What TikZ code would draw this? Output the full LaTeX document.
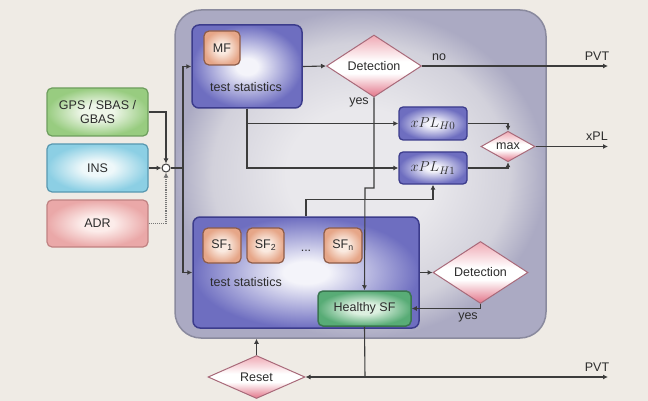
\documentclass[tikz,border=0pt]{standalone}
\usepackage{fontspec}
\setmainfont{Liberation Sans}
\usetikzlibrary{shapes.geometric,arrows.meta}

\definecolor{bg}{HTML}{EFEBE5}
\definecolor{txt}{HTML}{2C2C2C}
\definecolor{lineC}{HTML}{3C3C3C}
\definecolor{bigC}{HTML}{E9E8EC}
\definecolor{bigM}{HTML}{D2D1DB}
\definecolor{bigE}{HTML}{ABAAC3}
\definecolor{bigB}{HTML}{8A8A9E}
\definecolor{pC}{HTML}{F4F4FA}
\definecolor{pM}{HTML}{A4A4D8}
\definecolor{pE}{HTML}{6E6EC0}
\definecolor{pB}{HTML}{3C3C8C}
\definecolor{oC}{HTML}{FAEAE0}
\definecolor{oE}{HTML}{E6A688}
\definecolor{oB}{HTML}{8E5C48}
\definecolor{gC}{HTML}{EEF6E8}
\definecolor{gE}{HTML}{98CC80}
\definecolor{gB}{HTML}{6E9E5E}
\definecolor{bC}{HTML}{EEF8FA}
\definecolor{bE}{HTML}{8CCFE4}
\definecolor{bB}{HTML}{5898B0}
\definecolor{rC}{HTML}{FCECEA}
\definecolor{rE}{HTML}{EAA8A8}
\definecolor{rB}{HTML}{C08282}
\definecolor{hC}{HTML}{DCF0E0}
\definecolor{hE}{HTML}{58AC76}
\definecolor{hB}{HTML}{3A7650}
\definecolor{dTop}{HTML}{EFA9B4}
\definecolor{dBot}{HTML}{E27488}
\definecolor{dB}{HTML}{A86A7A}

\pgfdeclareradialshading{bigsh}{\pgfpoint{0bp}{0bp}}{color(0bp)=(bigC); color(10bp)=(bigC); color(20bp)=(bigM); color(25bp)=(bigE); color(50bp)=(bigE)}
\pgfdeclareradialshading{purpsh}{\pgfpoint{0bp}{0bp}}{color(0bp)=(pC); color(5bp)=(pC); color(17bp)=(pM); color(25bp)=(pE); color(50bp)=(pE)}
\pgfdeclareradialshading{orsh}{\pgfpoint{0bp}{0bp}}{color(0bp)=(oC); color(8bp)=(oC); color(25bp)=(oE); color(50bp)=(oE)}
\pgfdeclareradialshading{grsh}{\pgfpoint{0bp}{0bp}}{color(0bp)=(gC); color(8bp)=(gC); color(25bp)=(gE); color(50bp)=(gE)}
\pgfdeclareradialshading{blsh}{\pgfpoint{0bp}{0bp}}{color(0bp)=(bC); color(8bp)=(bC); color(25bp)=(bE); color(50bp)=(bE)}
\pgfdeclareradialshading{rdsh}{\pgfpoint{0bp}{0bp}}{color(0bp)=(rC); color(8bp)=(rC); color(25bp)=(rE); color(50bp)=(rE)}
\pgfdeclareradialshading{hlsh}{\pgfpoint{0bp}{0bp}}{color(0bp)=(hC); color(8bp)=(hC); color(25bp)=(hE); color(50bp)=(hE)}
\pgfdeclareverticalshading{diash}{100bp}{color(0bp)=(dBot); color(25bp)=(dBot); color(44bp)=(white); color(54bp)=(white); color(75bp)=(dTop); color(100bp)=(dTop)}

\newcommand{\diagfont}{\fontsize{12.5}{14.5}\selectfont}
\newcommand{\xplfont}{\fontsize{15}{17}\selectfont}

\tikzset{
  box/.style={draw, rounded corners=5pt, line width=1.2pt, inner sep=0pt, shade},
  purpbox/.style={box, shading=purpsh, draw=pB, line width=1.5pt, rounded corners=7pt},
  orbox/.style={box, shading=orsh, draw=oB, minimum height=35pt},
  grbox/.style={box, shading=grsh, draw=gB},
  blbox/.style={box, shading=blsh, draw=bB},
  rdbox/.style={box, shading=rdsh, draw=rB},
  hlbox/.style={box, shading=hlsh, draw=hB, line width=1.5pt},
  diabox/.style={diamond, draw=dB, line width=1pt, shade, shading=diash, inner sep=0pt},
  conn/.style={draw=lineC, line width=1.1pt},
  arr/.style={conn, -{Latex[length=5pt,width=5pt]}},
  lbl/.style={inner sep=0pt}
}

\begin{document}
\begin{tikzpicture}[x=1pt,y=-1pt, every node/.style={font=\diagfont, text=txt}]
\useasboundingbox (0,0) rectangle (648,401);
\fill[bg] (0,0) rectangle (648,401);

% main frame
\node[box, shading=bigsh, draw=bigB, line width=1.5pt, rounded corners=26pt,
      minimum width=371pt, minimum height=328pt] (mainbox) at (360.5,174) {};

% top test statistics block
\node[purpbox, minimum width=110pt, minimum height=83pt] (tsTop) at (247,66.5) {};
\node[orbox, minimum width=36pt, minimum height=34pt] (mf) at (222,48) {MF};
\node[lbl] (tsTopLbl) at (246,87) {test statistics};

% detection (top)
\node[diabox, minimum width=95pt, minimum height=45pt] (det1) at (374,66) {Detection};

% xPL boxes
\node[purpbox, rounded corners=4pt, line width=1.3pt, minimum width=68pt, minimum height=33pt, font=\xplfont] (xplH0) at (433,123.5) {$xPL_{H0}$};
\node[purpbox, rounded corners=4pt, line width=1.3pt, minimum width=68pt, minimum height=32pt, font=\xplfont] (xplH1) at (433,168) {$xPL_{H1}$};
\node[diabox, minimum width=54pt, minimum height=29pt] (max) at (508,146.5) {max};

% inputs
\node[grbox, minimum width=101pt, minimum height=48pt, align=center] (gps) at (97.5,112) {GPS / SBAS /\\GBAS};
\node[blbox, minimum width=101pt, minimum height=48pt] (ins) at (97.5,168) {INS};
\node[rdbox, minimum width=101pt, minimum height=47pt] (adr) at (97.5,223.5) {ADR};
\node[circle, draw=lineC, fill=white, line width=1pt, minimum size=8pt, inner sep=0pt] (junc) at (166,168) {};

% bottom test statistics block
\node[purpbox, minimum width=226pt, minimum height=111pt] (sfBox) at (306,272.5) {};
\node[orbox, minimum width=38pt] (sf1) at (222,245.5) {SF\textsubscript{1}};
\node[orbox, minimum width=37pt] (sf2) at (265.5,245.5) {SF\textsubscript{2}};
\node[orbox, minimum width=38pt] (sfn) at (343,245.5) {SF\textsubscript{n}};
\node[lbl] (dots) at (306,251) {...};
\node[lbl] (tsBotLbl) at (246,282) {test statistics};
\node[hlbox, minimum width=93pt, minimum height=35pt] (healthy) at (364.5,308.5) {Healthy SF};

\node[diabox, minimum width=95pt, minimum height=45pt] (det2) at (480.5,272.5) {Detection};
\node[diabox, minimum width=97pt, minimum height=43pt] (reset) at (256.5,377) {Reset};

% coordinates
\coordinate (bus) at (183,168);
\coordinate (pvt1) at (608,66);
\coordinate (xplOut) at (608,146.5);
\coordinate (pvt2) at (608,377);
\coordinate (jog) at (365,188);
\coordinate (split) at (365,377);

% input connectors
\draw[arr] (gps.east) -| (junc.north);
\draw[arr] (ins.east) -- (junc.west);
\draw[arr, densely dotted, draw=lineC!70] (adr.east) -| (junc.south);
\draw[conn] (junc.east) -- (bus);
\draw[arr] (bus) |- (tsTop.west);
\draw[arr] (bus) |- (sfBox.west);

% top path
\draw[arr] (tsTop.east) -- (det1.west);
\draw[arr] (det1.east) -- (pvt1);
\node[lbl] (noLbl) at (439,57) {no};
\node[lbl] (pvt1Lbl) at (597,56) {PVT};
\draw[arr] (det1.south) |- (jog) -- (healthy.north);
\node[lbl] (yes1Lbl) at (359,102) {yes};

\draw[arr] (tsTop.south) |- (xplH0.west);
\draw[arr] (tsTop.south) |- (xplH1.west);
\draw[arr] (xplH0.east) -| (max.north);
\draw[arr] (xplH1.east) -| (max.south);
\draw[arr] (max.east) -- (xplOut);
\node[lbl] (xplLbl) at (597,136) {xPL};

\draw[arr] (sfBox.north) -- ++(0,-17) -| (xplH1.south);

% bottom path
\draw[arr] (sfBox.east) -- (det2.west);
\draw[arr] (det2.south) |- (healthy.east);
\node[lbl] (yes2Lbl) at (468,317) {yes};

\draw[conn] (healthy.south) -- (split);
\draw[arr] (split) -- (reset.east);
\draw[arr] (split) -- (pvt2);
\node[lbl] (pvt2Lbl) at (597,367) {PVT};
\draw[arr] (reset.north) -- (reset.north |- mainbox.south);
\end{tikzpicture}
\end{document}
